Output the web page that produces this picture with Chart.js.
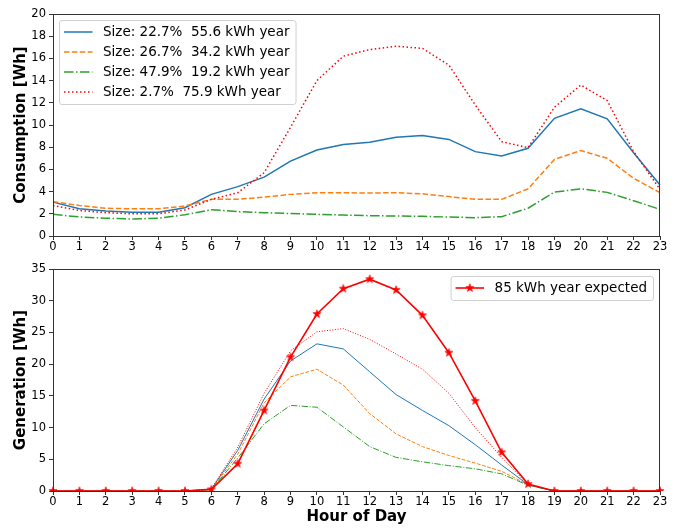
<!DOCTYPE html>
<html>
<head>
<meta charset="utf-8">
<script src="https://cdn.jsdelivr.net/npm/chart.js@4.4.1/dist/chart.umd.min.js"></script>
<style>
  html, body { margin: 0; padding: 0; background: #fff; }
  #wrap { position: relative; width: 674px; height: 529px; }
  #wrap canvas { position: absolute; left: 0; }
</style>
</head>
<body>
<div id="wrap">
  <canvas id="consChart" width="674" height="252" style="top:0"></canvas>
  <canvas id="genChart" width="674" height="274" style="top:255px"></canvas>
</div>
<script>
// --- Data ---
const hours = ['0','1','2','3','4','5','6','7','8','9','10','11','12','13','14','15','16','17','18','19','20','21','22','23'];

const seriesLabels = [
  'Size: 22.7%  55.6 kWh year',
  'Size: 26.7%  34.2 kWh year',
  'Size: 47.9%  19.2 kWh year',
  'Size: 2.7%  75.9 kWh year'
];
const expectedLabel = '85 kWh year expected';

// consumption [Wh] per hour
const cons227 = [3.05, 2.45, 2.25, 2.15, 2.15, 2.55, 3.75, 4.45, 5.3, 6.75, 7.75, 8.25, 8.45, 8.9, 9.05, 8.7, 7.6, 7.2, 7.9, 10.6, 11.45, 10.55, 7.5, 4.6];
const cons267 = [3.1, 2.75, 2.5, 2.45, 2.45, 2.7, 3.3, 3.3, 3.5, 3.75, 3.9, 3.9, 3.87, 3.9, 3.8, 3.55, 3.3, 3.3, 4.25, 6.9, 7.7, 7.0, 5.2, 3.9];
const cons479 = [1.95, 1.72, 1.6, 1.53, 1.6, 1.92, 2.37, 2.2, 2.1, 2.02, 1.95, 1.89, 1.83, 1.8, 1.77, 1.71, 1.65, 1.74, 2.5, 3.95, 4.25, 3.93, 3.18, 2.4];
const cons27  = [2.75, 2.3, 2.1, 2.0, 2.0, 2.35, 3.3, 3.9, 5.7, 9.8, 14.0, 16.2, 16.8, 17.1, 16.9, 15.4, 11.8, 8.5, 7.95, 11.6, 13.6, 12.2, 7.6, 4.2];

// generation [Wh] per hour
const gen227 = [0, 0, 0, 0, 0, 0, 0.3, 6.4, 14.5, 20.5, 23.2, 22.4, 18.8, 15.2, 12.7, 10.3, 7.3, 4.1, 1.0, 0, 0, 0, 0, 0];
const gen267 = [0, 0, 0, 0, 0, 0, 0.25, 5.8, 13.9, 18.0, 19.2, 16.7, 12.2, 9.0, 7.0, 5.6, 4.4, 3.1, 1.0, 0, 0, 0, 0, 0];
const gen479 = [0, 0, 0, 0, 0, 0, 0.2, 5.2, 10.6, 13.5, 13.2, 10.1, 7.0, 5.3, 4.6, 4.0, 3.5, 2.7, 0.9, 0, 0, 0, 0, 0];
const gen27  = [0, 0, 0, 0, 0, 0, 0.35, 6.9, 15.4, 22.1, 25.1, 25.6, 23.9, 21.6, 19.2, 15.4, 10.0, 5.3, 1.0, 0, 0, 0, 0, 0];
const genExpected = [0, 0, 0, 0, 0, 0, 0.25, 4.3, 12.7, 21.1, 27.9, 31.9, 33.4, 31.7, 27.7, 21.8, 14.2, 6.1, 1.1, 0, 0, 0, 0, 0];

// --- Styles ---
const FONT = "'DejaVu Sans', sans-serif";
const BLUE = '#1f77b4', ORANGE = '#ff7f0e', GREEN = '#2ca02c', RED = '#ff0000';

// filled five-point star used as marker
function makeStar(color) {
  const c = document.createElement('canvas');
  c.width = 12; c.height = 12;
  const g = c.getContext('2d');
  const R = 4.3, r = 1.7;
  g.beginPath();
  for (let i = 0; i < 10; i++) {
    const rad = i % 2 === 0 ? R : r;
    const a = -Math.PI / 2 + i * Math.PI / 5;
    const px = 6 + rad * Math.cos(a), py = 6 + rad * Math.sin(a);
    if (i === 0) g.moveTo(px, py); else g.lineTo(px, py);
  }
  g.closePath();
  g.fillStyle = color;
  g.fill();
  g.lineWidth = 0.6;
  g.strokeStyle = color;
  g.stroke();
  return c;
}
const starImg = makeStar(RED);

// draws the axes box like matplotlib spines
const framePlugin = {
  id: 'frame',
  afterDraw(chart) {
    const a = chart.chartArea, ctx = chart.ctx;
    ctx.save();
    ctx.strokeStyle = '#333';
    ctx.lineWidth = 1;
    ctx.strokeRect(Math.round(a.left) + 0.5, Math.round(a.top) + 0.5,
                   Math.round(a.right - a.left) - 1, Math.round(a.bottom - a.top));
    ctx.restore();
  }
};

// legend box inside the plot, matplotlib style
const boxLegendPlugin = {
  id: 'boxLegend',
  afterDraw(chart, args, opts) {
    const ctx = chart.ctx;
    const ds = chart.data.datasets.filter(d => !d.hideLegend);
    ctx.save();
    ctx.font = '13.5px ' + FONT;
    let maxW = 0;
    ds.forEach(d => { maxW = Math.max(maxW, ctx.measureText(d.label).width); });
    const rowH = 20, sampleW = 28.5, gap = 10.5;
    const w = 5 + sampleW + gap + maxW + 6;
    const h = ds.length * rowH + 4;
    let x = chart.chartArea.left + opts.x;
    if (opts.alignRight) x = chart.chartArea.right - opts.x - w;
    const y = chart.chartArea.top + opts.y;
    ctx.beginPath();
    ctx.roundRect(x + 0.5, y + 0.5, w, h, 2.5);
    ctx.fillStyle = 'rgba(255,255,255,0.8)';
    ctx.fill();
    ctx.strokeStyle = '#d0d0d0';
    ctx.lineWidth = 1;
    ctx.stroke();
    ds.forEach((d, i) => {
      const cy = y + 2 + rowH * i + rowH / 2;
      const lx = x + 5;
      ctx.beginPath();
      ctx.setLineDash(d.legendDash || []);
      ctx.strokeStyle = d.borderColor;
      ctx.lineWidth = d.legendWidth || 1.5;
      ctx.moveTo(lx, cy);
      ctx.lineTo(lx + sampleW, cy);
      ctx.stroke();
      ctx.setLineDash([]);
      if (d.pointStyle instanceof HTMLCanvasElement) {
        ctx.drawImage(d.pointStyle, lx + sampleW / 2 - 6, cy - 6);
      }
      ctx.fillStyle = '#000';
      ctx.textBaseline = 'middle';
      ctx.textAlign = 'left';
      ctx.fillText(d.label, lx + sampleW + gap, cy + 0.5);
    });
    ctx.restore();
  }
};

function buildOptions(yMax, yStep, yTitle, xTitle, canvasH, legendOpts) {
  const tickFont = { family: FONT, size: 11.5 };
  const titleFont = { family: FONT, size: 15, weight: 'bold' };
  return {
    responsive: false,
    animation: false,
    devicePixelRatio: 1,
    layout: { padding: { top: 14, right: 14, left: 0, bottom: 0 } },
    plugins: {
      legend: { display: false },
      tooltip: { enabled: false },
      boxLegend: legendOpts
    },
    elements: { line: { tension: 0 } },
    scales: {
      x: {
        type: 'category',
        offset: false,
        border: { display: false },
        grid: { drawOnChartArea: false, drawTicks: true, tickLength: 4, color: '#333' },
        ticks: { color: '#000', font: tickFont, padding: 0, autoSkip: false, maxRotation: 0 },
        title: { display: !!xTitle, text: xTitle || '', color: '#000', font: titleFont, padding: { top: 0, bottom: 3 } },
        afterFit(scale) { scale.height = canvasH - 236; }
      },
      y: {
        min: 0,
        max: yMax,
        border: { display: false },
        grid: { drawOnChartArea: false, drawTicks: true, tickLength: 4, color: '#333' },
        ticks: { color: '#000', font: tickFont, padding: 3, stepSize: yStep },
        title: { display: true, text: yTitle, color: '#000', font: titleFont, padding: { top: 12, bottom: 0 } },
        afterFit(scale) { scale.width = 53; }
      }
    }
  };
}

// --- Consumption chart ---
new Chart(document.getElementById('consChart'), {
  type: 'line',
  data: {
    labels: hours,
    datasets: [
      { label: seriesLabels[0], data: cons227, borderColor: BLUE, borderWidth: 1.5, pointRadius: 0, order: 4 },
      { label: seriesLabels[1], data: cons267, borderColor: ORANGE, borderWidth: 1.5, borderDash: [5.5, 2.4], legendDash: [5.5, 2.4], pointRadius: 0, order: 3 },
      { label: seriesLabels[2], data: cons479, borderColor: GREEN, borderWidth: 1.5, borderDash: [9.6, 2.4, 1.5, 2.4], legendDash: [9.6, 2.4, 1.5, 2.4], pointRadius: 0, order: 2 },
      { label: seriesLabels[3], data: cons27, borderColor: RED, borderWidth: 1.5, borderDash: [1.5, 2.5], legendDash: [1.5, 2.5], pointRadius: 0, order: 1 }
    ]
  },
  options: buildOptions(20, 2, 'Consumption [Wh]', null, 252, { x: 6, y: 6, alignRight: false }),
  plugins: [framePlugin, boxLegendPlugin]
});

// --- Generation chart ---
new Chart(document.getElementById('genChart'), {
  type: 'line',
  data: {
    labels: hours,
    datasets: [
      { label: expectedLabel, data: genExpected, borderColor: RED, borderWidth: 1.6, legendWidth: 1.6,
        pointStyle: starImg, pointRadius: 4, order: 0 },
      { label: seriesLabels[0], data: gen227, borderColor: BLUE, borderWidth: 1, pointRadius: 0, order: 4, hideLegend: true },
      { label: seriesLabels[1], data: gen267, borderColor: ORANGE, borderWidth: 1, borderDash: [3.7, 1.6], pointRadius: 0, order: 3, hideLegend: true },
      { label: seriesLabels[2], data: gen479, borderColor: GREEN, borderWidth: 1, borderDash: [6.4, 1.6, 1, 1.6], pointRadius: 0, order: 2, hideLegend: true },
      { label: seriesLabels[3], data: gen27, borderColor: RED, borderWidth: 1, borderDash: [1, 1.65], pointRadius: 0, order: 1, hideLegend: true }
    ]
  },
  options: buildOptions(35, 5, 'Generation [Wh]', 'Hour of Day', 274, { x: 7, y: 7, alignRight: true }),
  plugins: [framePlugin, boxLegendPlugin]
});
</script>
</body>
</html>
